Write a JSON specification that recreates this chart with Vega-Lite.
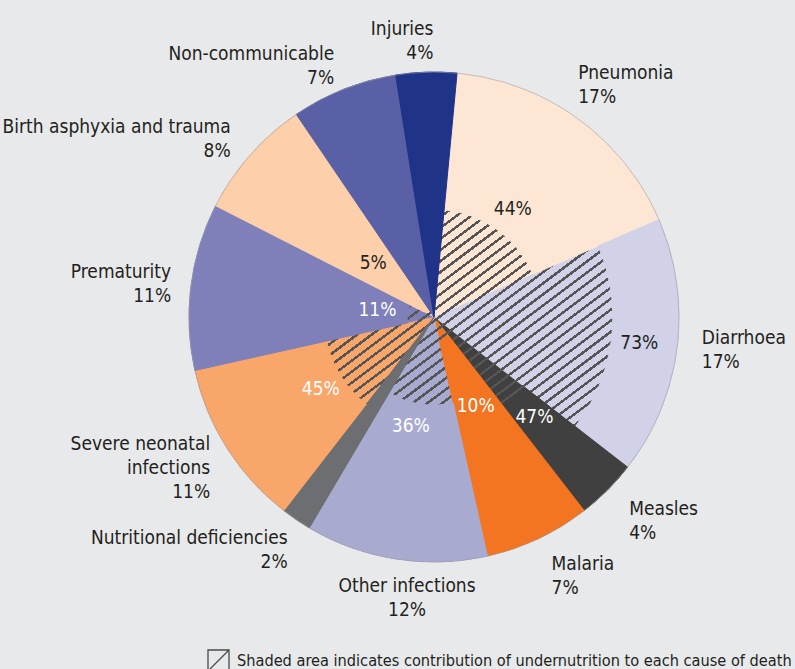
{
  "$schema": "https://vega.github.io/schema/vega-lite/v6.json",
  "autosize": {"type": "none"},
  "width": 490,
  "height": 490,
  "padding": {"left": 189, "top": 72, "right": 116, "bottom": 107},
  "background": "#e8e9eb",
  "config": {"view": {"stroke": null}, "text": {"font": "DejaVu Sans Condensed, Roboto, sans-serif", "fontSize": 19, "lineHeight": 24, "lineBreak": "\n", "baseline": "middle", "color": "#231f20"}},
  "data": {"values": [
    {"idx": 1, "cause": "Pneumonia", "share": 17, "undernut": 44, "label": "Pneumonia\n17%", "ulabel": "44%"},
    {"idx": 2, "cause": "Diarrhoea", "share": 17, "undernut": 73, "label": "Diarrhoea\n17%", "ulabel": "73%"},
    {"idx": 3, "cause": "Measles", "share": 4, "undernut": 47, "label": "Measles\n4%", "ulabel": "47%"},
    {"idx": 4, "cause": "Malaria", "share": 7, "undernut": 10, "label": "Malaria\n7%", "ulabel": "10%"},
    {"idx": 5, "cause": "Other infections", "share": 12, "undernut": 36, "label": "Other infections\n12%", "ulabel": "36%"},
    {"idx": 6, "cause": "Nutritional deficiencies", "share": 2, "undernut": 0, "label": "Nutritional deficiencies\n2%", "ulabel": ""},
    {"idx": 7, "cause": "Severe neonatal infections", "share": 11, "undernut": 45, "label": "Severe neonatal\ninfections\n11%", "ulabel": "45%"},
    {"idx": 8, "cause": "Prematurity", "share": 11, "undernut": 11, "label": "Prematurity\n11%", "ulabel": "11%"},
    {"idx": 9, "cause": "Birth asphyxia and trauma", "share": 8, "undernut": 5, "label": "Birth asphyxia and trauma\n8%", "ulabel": "5%"},
    {"idx": 10, "cause": "Non-communicable", "share": 7, "undernut": 0, "label": "Non-communicable\n7%", "ulabel": ""},
    {"idx": 11, "cause": "Injuries", "share": 4, "undernut": 0, "label": "Injuries\n4%", "ulabel": ""}
  ]},
  "layer": [
    {
      "mark": {"type": "arc", "radius": 245},
      "encoding": {
        "theta": {"field": "share", "type": "quantitative", "stack": true, "scale": {"domain": [0, 100], "range": [0.0942, 6.3774]}},
        "order": {"field": "idx", "type": "quantitative"},
        "color": {"field": "cause", "type": "nominal", "legend": null, "scale": {
          "domain": ["Pneumonia", "Diarrhoea", "Measles", "Malaria", "Other infections", "Nutritional deficiencies", "Severe neonatal infections", "Prematurity", "Birth asphyxia and trauma", "Non-communicable", "Injuries"],
          "range": ["#fde6d4", "#d1d2e8", "#404040", "#f37421", "#a9aad0", "#6d6e71", "#f9a66b", "#7f7fba", "#fdcfab", "#5a60a6", "#1f3389"]}}
      }
    },
    {
      "data": {"values": [{"k": 1}]},
      "mark": {"type": "arc", "radius": 245, "theta": 0, "theta2": 6.2832, "fill": {
        "gradient": "linear", "x1": 0.2, "y1": 0.1, "x2": 0.8, "y2": 0.9,
        "stops": [
          {"offset": 0, "color": "#555555"}, {"offset": 0.005, "color": "#555555"}, {"offset": 0.005, "color": "transparent"}, {"offset": 0.018, "color": "transparent"},
          {"offset": 0.018, "color": "#555555"}, {"offset": 0.023, "color": "#555555"}, {"offset": 0.023, "color": "transparent"}, {"offset": 0.036, "color": "transparent"},
          {"offset": 0.036, "color": "#555555"}, {"offset": 0.041, "color": "#555555"}, {"offset": 0.041, "color": "transparent"}, {"offset": 0.054, "color": "transparent"},
          {"offset": 0.054, "color": "#555555"}, {"offset": 0.059, "color": "#555555"}, {"offset": 0.059, "color": "transparent"}, {"offset": 0.072, "color": "transparent"},
          {"offset": 0.072, "color": "#555555"}, {"offset": 0.077, "color": "#555555"}, {"offset": 0.077, "color": "transparent"}, {"offset": 0.09, "color": "transparent"},
          {"offset": 0.09, "color": "#555555"}, {"offset": 0.095, "color": "#555555"}, {"offset": 0.095, "color": "transparent"}, {"offset": 0.108, "color": "transparent"},
          {"offset": 0.108, "color": "#555555"}, {"offset": 0.113, "color": "#555555"}, {"offset": 0.113, "color": "transparent"}, {"offset": 0.126, "color": "transparent"},
          {"offset": 0.126, "color": "#555555"}, {"offset": 0.131, "color": "#555555"}, {"offset": 0.131, "color": "transparent"}, {"offset": 0.144, "color": "transparent"},
          {"offset": 0.144, "color": "#555555"}, {"offset": 0.149, "color": "#555555"}, {"offset": 0.149, "color": "transparent"}, {"offset": 0.162, "color": "transparent"},
          {"offset": 0.162, "color": "#555555"}, {"offset": 0.167, "color": "#555555"}, {"offset": 0.167, "color": "transparent"}, {"offset": 0.18, "color": "transparent"},
          {"offset": 0.18, "color": "#555555"}, {"offset": 0.185, "color": "#555555"}, {"offset": 0.185, "color": "transparent"}, {"offset": 0.198, "color": "transparent"},
          {"offset": 0.198, "color": "#555555"}, {"offset": 0.203, "color": "#555555"}, {"offset": 0.203, "color": "transparent"}, {"offset": 0.216, "color": "transparent"},
          {"offset": 0.216, "color": "#555555"}, {"offset": 0.221, "color": "#555555"}, {"offset": 0.221, "color": "transparent"}, {"offset": 0.234, "color": "transparent"},
          {"offset": 0.234, "color": "#555555"}, {"offset": 0.239, "color": "#555555"}, {"offset": 0.239, "color": "transparent"}, {"offset": 0.252, "color": "transparent"},
          {"offset": 0.252, "color": "#555555"}, {"offset": 0.257, "color": "#555555"}, {"offset": 0.257, "color": "transparent"}, {"offset": 0.27, "color": "transparent"},
          {"offset": 0.27, "color": "#555555"}, {"offset": 0.275, "color": "#555555"}, {"offset": 0.275, "color": "transparent"}, {"offset": 0.288, "color": "transparent"},
          {"offset": 0.288, "color": "#555555"}, {"offset": 0.293, "color": "#555555"}, {"offset": 0.293, "color": "transparent"}, {"offset": 0.306, "color": "transparent"},
          {"offset": 0.306, "color": "#555555"}, {"offset": 0.311, "color": "#555555"}, {"offset": 0.311, "color": "transparent"}, {"offset": 0.324, "color": "transparent"},
          {"offset": 0.324, "color": "#555555"}, {"offset": 0.329, "color": "#555555"}, {"offset": 0.329, "color": "transparent"}, {"offset": 0.342, "color": "transparent"},
          {"offset": 0.342, "color": "#555555"}, {"offset": 0.347, "color": "#555555"}, {"offset": 0.347, "color": "transparent"}, {"offset": 0.36, "color": "transparent"},
          {"offset": 0.36, "color": "#555555"}, {"offset": 0.365, "color": "#555555"}, {"offset": 0.365, "color": "transparent"}, {"offset": 0.378, "color": "transparent"},
          {"offset": 0.378, "color": "#555555"}, {"offset": 0.383, "color": "#555555"}, {"offset": 0.383, "color": "transparent"}, {"offset": 0.396, "color": "transparent"},
          {"offset": 0.396, "color": "#555555"}, {"offset": 0.401, "color": "#555555"}, {"offset": 0.401, "color": "transparent"}, {"offset": 0.414, "color": "transparent"},
          {"offset": 0.414, "color": "#555555"}, {"offset": 0.419, "color": "#555555"}, {"offset": 0.419, "color": "transparent"}, {"offset": 0.432, "color": "transparent"},
          {"offset": 0.432, "color": "#555555"}, {"offset": 0.437, "color": "#555555"}, {"offset": 0.437, "color": "transparent"}, {"offset": 0.45, "color": "transparent"},
          {"offset": 0.45, "color": "#555555"}, {"offset": 0.455, "color": "#555555"}, {"offset": 0.455, "color": "transparent"}, {"offset": 0.468, "color": "transparent"},
          {"offset": 0.468, "color": "#555555"}, {"offset": 0.473, "color": "#555555"}, {"offset": 0.473, "color": "transparent"}, {"offset": 0.486, "color": "transparent"},
          {"offset": 0.486, "color": "#555555"}, {"offset": 0.491, "color": "#555555"}, {"offset": 0.491, "color": "transparent"}, {"offset": 0.504, "color": "transparent"},
          {"offset": 0.504, "color": "#555555"}, {"offset": 0.509, "color": "#555555"}, {"offset": 0.509, "color": "transparent"}, {"offset": 0.522, "color": "transparent"},
          {"offset": 0.522, "color": "#555555"}, {"offset": 0.527, "color": "#555555"}, {"offset": 0.527, "color": "transparent"}, {"offset": 0.54, "color": "transparent"},
          {"offset": 0.54, "color": "#555555"}, {"offset": 0.545, "color": "#555555"}, {"offset": 0.545, "color": "transparent"}, {"offset": 0.558, "color": "transparent"},
          {"offset": 0.558, "color": "#555555"}, {"offset": 0.563, "color": "#555555"}, {"offset": 0.563, "color": "transparent"}, {"offset": 0.576, "color": "transparent"},
          {"offset": 0.576, "color": "#555555"}, {"offset": 0.581, "color": "#555555"}, {"offset": 0.581, "color": "transparent"}, {"offset": 0.594, "color": "transparent"},
          {"offset": 0.594, "color": "#555555"}, {"offset": 0.599, "color": "#555555"}, {"offset": 0.599, "color": "transparent"}, {"offset": 0.612, "color": "transparent"},
          {"offset": 0.612, "color": "#555555"}, {"offset": 0.617, "color": "#555555"}, {"offset": 0.617, "color": "transparent"}, {"offset": 0.63, "color": "transparent"},
          {"offset": 0.63, "color": "#555555"}, {"offset": 0.635, "color": "#555555"}, {"offset": 0.635, "color": "transparent"}, {"offset": 0.648, "color": "transparent"},
          {"offset": 0.648, "color": "#555555"}, {"offset": 0.653, "color": "#555555"}, {"offset": 0.653, "color": "transparent"}, {"offset": 0.666, "color": "transparent"},
          {"offset": 0.666, "color": "#555555"}, {"offset": 0.671, "color": "#555555"}, {"offset": 0.671, "color": "transparent"}, {"offset": 0.684, "color": "transparent"},
          {"offset": 0.684, "color": "#555555"}, {"offset": 0.689, "color": "#555555"}, {"offset": 0.689, "color": "transparent"}, {"offset": 0.702, "color": "transparent"},
          {"offset": 0.702, "color": "#555555"}, {"offset": 0.707, "color": "#555555"}, {"offset": 0.707, "color": "transparent"}, {"offset": 0.72, "color": "transparent"},
          {"offset": 0.72, "color": "#555555"}, {"offset": 0.725, "color": "#555555"}, {"offset": 0.725, "color": "transparent"}, {"offset": 0.738, "color": "transparent"},
          {"offset": 0.738, "color": "#555555"}, {"offset": 0.743, "color": "#555555"}, {"offset": 0.743, "color": "transparent"}, {"offset": 0.756, "color": "transparent"},
          {"offset": 0.756, "color": "#555555"}, {"offset": 0.761, "color": "#555555"}, {"offset": 0.761, "color": "transparent"}, {"offset": 0.774, "color": "transparent"},
          {"offset": 0.774, "color": "#555555"}, {"offset": 0.779, "color": "#555555"}, {"offset": 0.779, "color": "transparent"}, {"offset": 0.792, "color": "transparent"},
          {"offset": 0.792, "color": "#555555"}, {"offset": 0.797, "color": "#555555"}, {"offset": 0.797, "color": "transparent"}, {"offset": 0.81, "color": "transparent"},
          {"offset": 0.81, "color": "#555555"}, {"offset": 0.815, "color": "#555555"}, {"offset": 0.815, "color": "transparent"}, {"offset": 0.828, "color": "transparent"},
          {"offset": 0.828, "color": "#555555"}, {"offset": 0.833, "color": "#555555"}, {"offset": 0.833, "color": "transparent"}, {"offset": 0.846, "color": "transparent"},
          {"offset": 0.846, "color": "#555555"}, {"offset": 0.851, "color": "#555555"}, {"offset": 0.851, "color": "transparent"}, {"offset": 0.864, "color": "transparent"},
          {"offset": 0.864, "color": "#555555"}, {"offset": 0.869, "color": "#555555"}, {"offset": 0.869, "color": "transparent"}, {"offset": 0.882, "color": "transparent"},
          {"offset": 0.882, "color": "#555555"}, {"offset": 0.887, "color": "#555555"}, {"offset": 0.887, "color": "transparent"}, {"offset": 0.9, "color": "transparent"},
          {"offset": 0.9, "color": "#555555"}, {"offset": 0.905, "color": "#555555"}, {"offset": 0.905, "color": "transparent"}, {"offset": 0.918, "color": "transparent"},
          {"offset": 0.918, "color": "#555555"}, {"offset": 0.923, "color": "#555555"}, {"offset": 0.923, "color": "transparent"}, {"offset": 0.936, "color": "transparent"},
          {"offset": 0.936, "color": "#555555"}, {"offset": 0.941, "color": "#555555"}, {"offset": 0.941, "color": "transparent"}, {"offset": 0.954, "color": "transparent"},
          {"offset": 0.954, "color": "#555555"}, {"offset": 0.959, "color": "#555555"}, {"offset": 0.959, "color": "transparent"}, {"offset": 0.972, "color": "transparent"},
          {"offset": 0.972, "color": "#555555"}, {"offset": 0.977, "color": "#555555"}, {"offset": 0.977, "color": "transparent"}, {"offset": 0.99, "color": "transparent"},
          {"offset": 0.99, "color": "#555555"}, {"offset": 0.995, "color": "#555555"}, {"offset": 0.995, "color": "transparent"}, {"offset": 1, "color": "transparent"}
        ]}},
      "encoding": {}
    },
    {
      "transform": [{"stack": "share", "groupby": [], "sort": [{"field": "idx", "order": "ascending"}], "as": ["t0", "t1"]}],
      "mark": {"type": "arc", "strokeWidth": 1},
      "encoding": {
        "theta": {"field": "t0", "type": "quantitative", "stack": null},
        "theta2": {"field": "t1"},
        "radius": {"field": "undernut", "type": "quantitative", "stack": null, "scale": {"type": "linear", "domain": [0, 100], "range": [0, 245], "zero": true}},
        "radius2": {"datum": 100},
        "color": {"field": "cause", "type": "nominal", "legend": null},
        "stroke": {"field": "cause", "type": "nominal", "legend": null, "scale": {
          "domain": ["Pneumonia", "Diarrhoea", "Measles", "Malaria", "Other infections", "Nutritional deficiencies", "Severe neonatal infections", "Prematurity", "Birth asphyxia and trauma", "Non-communicable", "Injuries"],
          "range": ["#fde6d4", "#d1d2e8", "#404040", "#f37421", "#a9aad0", "#6d6e71", "#f9a66b", "#7f7fba", "#fdcfab", "#5a60a6", "#1f3389"]}}
      }
    },
    {
      "data": {"values": [{"k": 1}]},
      "mark": {"type": "arc", "radius": 245, "theta": 0, "theta2": 6.2832, "fill": null, "filled": false, "stroke": "#9d9fa6", "strokeWidth": 0.6},
      "encoding": {}
    },
    {
      "mark": {"type": "text", "radius": 276, "align": "left", "dy": -3},
      "encoding": {
        "theta": {"field": "share", "type": "quantitative", "stack": true},
        "order": {"field": "idx", "type": "quantitative"},
        "text": {"condition": {"test": "indexof(['Measles','Malaria'], datum.cause) >= 0", "field": "label", "type": "nominal"}, "value": ""}
      }
    },
    {
      "mark": {"type": "text", "radius": 276, "align": "left", "dx": -6, "dy": -14},
      "encoding": {
        "theta": {"field": "share", "type": "quantitative", "stack": true},
        "order": {"field": "idx", "type": "quantitative"},
        "text": {"condition": {"test": "datum.cause === 'Diarrhoea'", "field": "label", "type": "nominal"}, "value": ""}
      }
    },
    {
      "mark": {"type": "text", "radius": 276, "align": "left", "dx": -18, "dy": -21},
      "encoding": {
        "theta": {"field": "share", "type": "quantitative", "stack": true},
        "order": {"field": "idx", "type": "quantitative"},
        "text": {"condition": {"test": "datum.cause === 'Pneumonia'", "field": "label", "type": "nominal"}, "value": ""}
      }
    },
    {
      "mark": {"type": "text", "radius": 271, "align": "right", "dy": -11},
      "encoding": {
        "theta": {"field": "share", "type": "quantitative", "stack": true},
        "order": {"field": "idx", "type": "quantitative"},
        "text": {"condition": {"test": "indexof(['Birth asphyxia and trauma','Non-communicable'], datum.cause) >= 0", "field": "label", "type": "nominal"}, "value": ""}
      }
    },
    {
      "mark": {"type": "text", "radius": 271, "align": "right", "dx": 6, "dy": -11},
      "encoding": {
        "theta": {"field": "share", "type": "quantitative", "stack": true},
        "order": {"field": "idx", "type": "quantitative"},
        "text": {"condition": {"test": "datum.cause === 'Prematurity'", "field": "label", "type": "nominal"}, "value": ""}
      }
    },
    {
      "mark": {"type": "text", "radius": 271, "align": "right", "dx": 5, "dy": -18},
      "encoding": {
        "theta": {"field": "share", "type": "quantitative", "stack": true},
        "order": {"field": "idx", "type": "quantitative"},
        "text": {"condition": {"test": "datum.cause === 'Severe neonatal infections'", "field": "label", "type": "nominal"}, "value": ""}
      }
    },
    {
      "mark": {"type": "text", "radius": 271, "align": "right", "dx": 6, "dy": -3},
      "encoding": {
        "theta": {"field": "share", "type": "quantitative", "stack": true},
        "order": {"field": "idx", "type": "quantitative"},
        "text": {"condition": {"test": "datum.cause === 'Nutritional deficiencies'", "field": "label", "type": "nominal"}, "value": ""}
      }
    },
    {
      "mark": {"type": "text", "radius": 271, "align": "right", "dx": 8, "dy": -17},
      "encoding": {
        "theta": {"field": "share", "type": "quantitative", "stack": true},
        "order": {"field": "idx", "type": "quantitative"},
        "text": {"condition": {"test": "datum.cause === 'Injuries'", "field": "label", "type": "nominal"}, "value": ""}
      }
    },
    {
      "mark": {"type": "text", "radius": 281, "align": "center", "dx": 17, "dy": -9},
      "encoding": {
        "theta": {"field": "share", "type": "quantitative", "stack": true},
        "order": {"field": "idx", "type": "quantitative"},
        "text": {"condition": {"test": "datum.cause === 'Other infections'", "field": "label", "type": "nominal"}, "value": ""}
      }
    },
    {
      "mark": {"type": "text", "radius": 134, "align": "center"},
      "encoding": {
        "theta": {"field": "share", "type": "quantitative", "stack": true},
        "order": {"field": "idx", "type": "quantitative"},
        "text": {"condition": {"test": "indexof(['Pneumonia','Severe neonatal infections'], datum.cause) >= 0", "field": "ulabel", "type": "nominal"}, "value": ""},
        "color": {"condition": {"test": "datum.cause === 'Pneumonia'", "value": "#231f20"}, "value": "#ffffff"}
      }
    },
    {
      "mark": {"type": "text", "radius": 142, "align": "center", "color": "#ffffff"},
      "encoding": {
        "theta": {"field": "share", "type": "quantitative", "stack": true},
        "order": {"field": "idx", "type": "quantitative"},
        "text": {"condition": {"test": "datum.cause === 'Measles'", "field": "ulabel", "type": "nominal"}, "value": ""}
      }
    },
    {
      "mark": {"type": "text", "radius": 207, "align": "center"},
      "encoding": {
        "theta": {"field": "share", "type": "quantitative", "stack": true},
        "order": {"field": "idx", "type": "quantitative"},
        "text": {"condition": {"test": "datum.cause === 'Diarrhoea'", "field": "ulabel", "type": "nominal"}, "value": ""}
      }
    },
    {
      "mark": {"type": "text", "radius": 110, "align": "center", "color": "#ffffff", "dx": -6},
      "encoding": {
        "theta": {"field": "share", "type": "quantitative", "stack": true},
        "order": {"field": "idx", "type": "quantitative"},
        "text": {"condition": {"test": "datum.cause === 'Other infections'", "field": "ulabel", "type": "nominal"}, "value": ""}
      }
    },
    {
      "mark": {"type": "text", "radius": 57, "align": "center", "color": "#ffffff"},
      "encoding": {
        "theta": {"field": "share", "type": "quantitative", "stack": true},
        "order": {"field": "idx", "type": "quantitative"},
        "text": {"condition": {"test": "datum.cause === 'Prematurity'", "field": "ulabel", "type": "nominal"}, "value": ""}
      }
    },
    {
      "mark": {"type": "text", "radius": 98, "align": "center", "color": "#ffffff"},
      "encoding": {
        "theta": {"field": "share", "type": "quantitative", "stack": true},
        "order": {"field": "idx", "type": "quantitative"},
        "text": {"condition": {"test": "datum.cause === 'Malaria'", "field": "ulabel", "type": "nominal"}, "value": ""}
      }
    },
    {
      "mark": {"type": "text", "radius": 81, "align": "center"},
      "encoding": {
        "theta": {"field": "share", "type": "quantitative", "stack": true},
        "order": {"field": "idx", "type": "quantitative"},
        "text": {"condition": {"test": "datum.cause === 'Birth asphyxia and trauma'", "field": "ulabel", "type": "nominal"}, "value": ""}
      }
    },
    {
      "data": {"values": [{"note": "Shaded area indicates contribution of undernutrition to each cause of death"}]},
      "mark": {"type": "point", "opacity": 0, "color": "#4a4a4a"},
      "encoding": {
        "shape": {"field": "note", "type": "nominal", "scale": {"range": ["M-1,-1L1,-1L1,1L-1,1Z M-1,1L1,-1"]},
          "legend": {"orient": "none", "legendX": 18, "legendY": 577, "title": null, "padding": 0,
            "labelFont": "DejaVu Sans Condensed, Roboto, sans-serif", "labelFontSize": 16.2, "labelColor": "#231f20", "labelLimit": 1000, "labelOffset": 7,
            "symbolSize": 441, "symbolStrokeColor": "#4a4a4a", "symbolStrokeWidth": 1.3,
            "encode": {"symbols": {"update": {"opacity": {"value": 1}, "stroke": {"value": "#4a4a4a"}, "strokeWidth": {"value": 1.3}, "fill": {"value": "transparent"}, "size": {"value": 441}}}}}}
      }
    }
  ]
}
